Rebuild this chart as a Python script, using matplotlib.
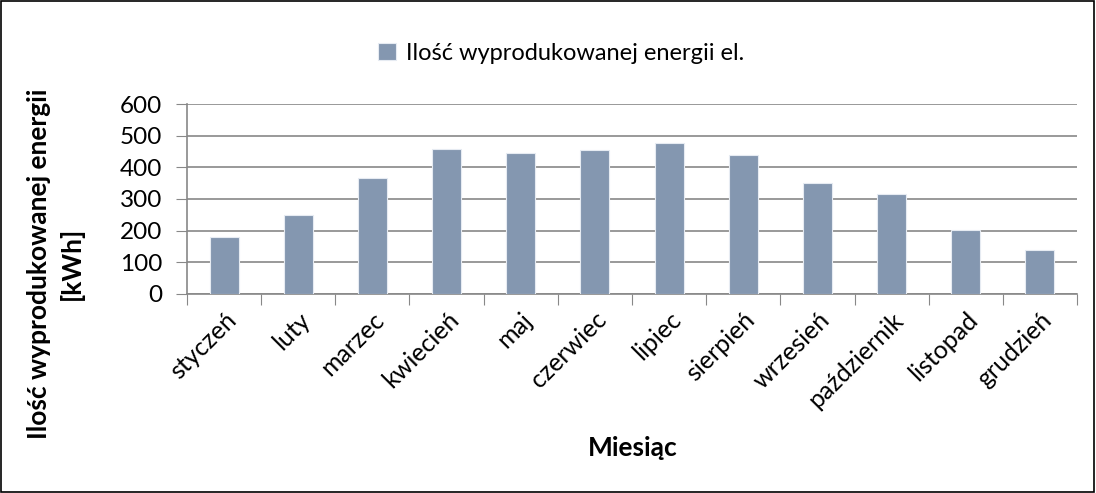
import matplotlib.pyplot as plt
from matplotlib.patches import Rectangle

miesiace = ['styczeń', 'luty', 'marzec', 'kwiecień', 'maj', 'czerwiec',
            'lipiec', 'sierpień', 'wrzesień', 'październik', 'listopad', 'grudzień']
energia = [181, 249, 367, 458, 446, 455, 478, 438, 352, 315, 203, 140]
y_ticks = [0, 100, 200, 300, 400, 500, 600]

plt.rcParams['font.family'] = ['Lato', 'DejaVu Sans']

fig = plt.figure(figsize=(10.96, 4.93), dpi=100)
ax = fig.add_axes([0.1706, 0.4037, 0.8121, 0.3853])

x = range(len(miesiace))
ax.bar(x, energia, width=0.39, color='#8497b0', edgecolor='#e6ebf2', linewidth=0.8,
       zorder=3, label='Ilość wyprodukowanej energii el.')

ax.set_xlim(-0.5, len(miesiace) - 0.5)
ax.set_ylim(0, 600)
ax.set_yticks(y_ticks)
ax.tick_params(axis='y', labelsize=17.5, length=8, color='#888888', pad=10)
ax.yaxis.grid(True, color='#888888', linewidth=1.2, zorder=0)

# ticks at category boundaries, labels at centres
ax.set_xticks([i - 0.5 for i in range(len(miesiace) + 1)])
ax.set_xticklabels([])
ax.set_xticks(list(x), minor=True)
ax.set_xticklabels(miesiace, minor=True, rotation=45, ha='right', rotation_mode='anchor', fontsize=18)
ax.tick_params(axis='x', which='major', length=8, color='#888888')
ax.tick_params(axis='x', which='minor', length=0, pad=10)

for s in ['top', 'right']:
    ax.spines[s].set_visible(False)
for s in ['left', 'bottom']:
    ax.spines[s].set_color('#888888')
    ax.spines[s].set_linewidth(1.2)

ax.set_ylabel('Ilość wyprodukowanej energii\n[kWh]', fontsize=19, fontweight='bold',
              linespacing=1.4, va='center')
ax.yaxis.set_label_coords(-0.148, 0.16)
ax.set_xlabel('Miesiąc', fontsize=19, fontweight='bold', va='center')
ax.xaxis.set_label_coords(0.501, -0.81)

fig.legend(loc='center', bbox_to_anchor=(0.512, 0.892), frameon=False, fontsize=17,
           handlelength=0.75, handleheight=0.75, handletextpad=0.4)

fig.patches.append(Rectangle((0.001, 0.003), 0.997, 0.994, transform=fig.transFigure,
                             fill=False, edgecolor='black', linewidth=1.2))

fig.savefig('out.png', dpi=100)
